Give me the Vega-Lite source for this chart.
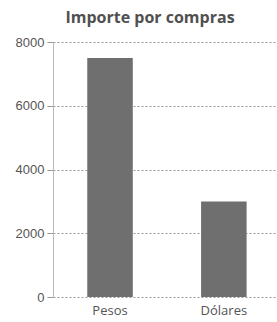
{
  "$schema": "https://vega.github.io/schema/vega-lite/v6.json",
  "autosize": "none",
  "width": 224,
  "height": 255,
  "padding": {"left": 53, "top": 42, "right": 0, "bottom": 25},
  "background": "white",
  "title": {
    "text": "Importe por compras",
    "anchor": "middle",
    "dx": -15,
    "offset": 10,
    "font": "Open Sans",
    "fontSize": 16,
    "fontWeight": "bold",
    "color": "#505050"
  },
  "data": {"values": [
    {"moneda": "Pesos", "importe": 7500},
    {"moneda": "Dólares", "importe": 3000}
  ]},
  "mark": {"type": "bar", "color": "#6f6f6f"},
  "encoding": {
    "x": {
      "field": "moneda", "type": "nominal", "sort": null,
      "scale": {"paddingInner": 0.6, "paddingOuter": 0.284, "align": 0.53},
      "axis": {"title": null, "labelAngle": 0, "ticks": false, "domain": false, "grid": false,
               "labelFont": "Open Sans", "labelFontSize": 13, "labelColor": "#555", "labelPadding": 7}
    },
    "y": {
      "field": "importe", "type": "quantitative",
      "scale": {"domain": [0, 8000], "nice": false},
      "axis": {"title": null, "values": [0, 2000, 4000, 6000, 8000], "format": "d",
               "labelFont": "Liberation Sans", "labelFontSize": 13, "labelColor": "#555", "labelPadding": 3,
               "tickSize": 6, "tickColor": "#999", "domainColor": "#bbb",
               "grid": true, "gridColor": "#999", "gridDash": [2, 2], "gridWidth": 1}
    }
  },
  "config": {"view": {"stroke": null}}
}
